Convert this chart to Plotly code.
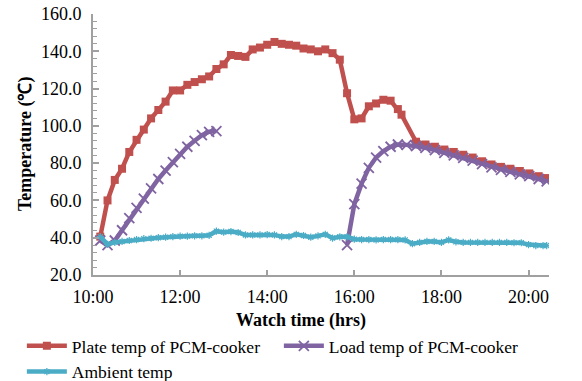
import plotly.graph_objects as go

def hrs(ts):
    out = []
    for s in ts:
        h, m = s.split(":")
        out.append(int(h) + int(m) / 60.0)
    return out

# Plate temp of PCM-cooker
plate_time = ["10:10", "10:20", "10:30", "10:40", "10:50", "11:00", "11:10", "11:20", "11:30", "11:40",
              "11:50", "12:00", "12:10", "12:20", "12:30", "12:40", "12:50", "13:00", "13:10", "13:20",
              "13:30", "13:40", "13:50", "14:00", "14:10", "14:20", "14:30", "14:40", "14:50", "15:00",
              "15:10", "15:20", "15:30", "15:40", "15:50", "16:00", "16:10", "16:20", "16:30", "16:40",
              "16:50", "17:00", "17:05", "17:25", "17:38", "17:51", "18:04", "18:17", "18:30", "18:43",
              "18:56", "19:09", "19:22", "19:35", "19:48", "20:01", "20:14", "20:25"]
plate_temp = [40.6, 60.0, 71.0, 77.0, 86.0, 92.5, 98.0, 104.0, 108.5, 113.0,
              119.0, 119.0, 122.0, 123.5, 125.0, 126.5, 130.5, 133.0, 138.0, 137.5,
              137.0, 141.0, 142.0, 143.5, 145.0, 144.0, 143.5, 143.0, 141.5, 141.0,
              140.0, 141.0, 139.0, 135.5, 117.5, 103.5, 104.0, 110.5, 112.0, 114.0,
              113.5, 109.0, 106.0, 91.5, 90.0, 88.8, 87.3, 86.0, 84.5, 83.0,
              81.0, 79.3, 78.0, 77.0, 75.8, 74.5, 73.0, 72.0]

# Load temp of PCM-cooker (two measurement periods, gap in between)
load_time = ["10:10", "10:20", "10:30", "10:40", "10:50", "11:00", "11:10", "11:20", "11:30", "11:40",
             "11:50", "12:00", "12:10", "12:20", "12:30", "12:40", "12:50", None,
             "15:50", "16:00", "16:10", "16:20", "16:30", "16:40", "16:50", "17:00", "17:12", "17:25",
             "17:38", "17:51", "18:04", "18:17", "18:30", "18:43", "18:56", "19:09", "19:22", "19:35",
             "19:48", "20:01", "20:14", "20:25"]
load_temp = [38.5, 36.0, 38.5, 44.0, 50.5, 56.0, 61.0, 66.5, 71.5, 76.0,
             80.5, 85.0, 88.8, 92.0, 95.0, 96.8, 97.2, None,
             36.0, 58.0, 69.0, 77.5, 83.0, 86.5, 88.8, 90.0, 89.8, 89.2,
             88.2, 87.0, 85.5, 84.2, 82.8, 81.3, 79.5, 77.7, 76.4, 75.3,
             74.0, 73.0, 71.5, 70.2]

# Ambient temp
amb_time = ["10:10", "10:20", "10:30", "10:40", "10:50", "11:00", "11:10", "11:20", "11:30", "11:40",
            "11:50", "12:00", "12:10", "12:20", "12:30", "12:40", "12:50", "13:00", "13:10", "13:20",
            "13:30", "13:40", "13:50", "14:00", "14:10", "14:20", "14:30", "14:40", "14:50", "15:00",
            "15:10", "15:20", "15:30", "15:40", "15:50", "16:00", "16:10", "16:20", "16:30", "16:40",
            "16:50", "17:00", "17:10", "17:20", "17:30", "17:40", "17:50", "18:00", "18:10", "18:20",
            "18:30", "18:40", "18:50", "19:00", "19:10", "19:20", "19:30", "19:40", "19:50", "20:00",
            "20:10", "20:20", "20:25"]
amb_temp = [40.6, 36.5, 37.5, 38.0, 38.5, 39.0, 39.5, 39.7, 40.0, 40.3,
            40.6, 40.8, 40.8, 41.0, 41.0, 41.3, 43.5, 43.0, 43.3, 42.8,
            41.5, 41.5, 41.5, 41.7, 41.5, 40.6, 40.6, 41.8, 41.2, 40.3,
            41.0, 41.8, 39.8, 40.5, 40.5, 39.2, 39.0, 39.0, 38.8, 39.0,
            39.0, 39.0, 38.8, 36.8, 37.5, 38.0, 38.0, 37.5, 38.8, 37.8,
            37.5, 37.5, 37.5, 37.5, 37.5, 37.5, 37.5, 37.3, 37.3, 36.3,
            35.8, 35.8, 35.8]

x_tickvals = [10, 12, 14, 16, 18, 20]
x_ticktext = ["10:00", "12:00", "14:00", "16:00", "18:00", "20:00"]

def hrs_gap(ts):
    return [None if s is None else hrs([s])[0] for s in ts]

RED = "#C0504D"
PUR = "#8064A2"
TEAL = "#4BACC6"
FONT = "Liberation Serif"

fig = go.Figure()
fig.add_trace(go.Scatter(
    x=hrs(plate_time), y=plate_temp, mode="lines+markers", name="Plate temp of PCM-cooker",
    line=dict(color=RED, width=4.5),
    marker=dict(symbol="square", size=8, color=RED),
))
fig.add_trace(go.Scatter(
    x=hrs_gap(load_time), y=load_temp, mode="lines+markers", name="Load temp of PCM-cooker",
    line=dict(color=PUR, width=4.5), connectgaps=False,
    marker=dict(symbol="x-thin-open", size=10, color=PUR, line=dict(color=PUR, width=1.8)),
))
fig.add_trace(go.Scatter(
    x=hrs(amb_time), y=amb_temp, mode="lines+markers", name="Ambient temp",
    line=dict(color=TEAL, width=4.5),
    marker=dict(symbol="asterisk-open", size=6, color=TEAL, line=dict(color=TEAL, width=1.2)),
))

axis_col = "#A0A0A0"
fig.update_layout(
    width=582, height=381,
    margin=dict(l=93, r=33, t=14, b=106, autoexpand=False),
    paper_bgcolor="white", plot_bgcolor="white",
    font=dict(family=FONT, size=18, color="black"),
    showlegend=True,
    legend=dict(
        orientation="h", x=-0.156, xanchor="left",
        y=-0.203, yanchor="top",
        font=dict(family=FONT, size=17.5, color="black"),
        entrywidth=202, entrywidthmode="pixels",
        tracegroupgap=0, itemwidth=40, bgcolor="rgba(0,0,0,0)",
    ),
    xaxis=dict(
        range=[10, 20.47], tickvals=x_tickvals, ticktext=x_ticktext,
        showline=True, linecolor=axis_col, linewidth=2,
        ticks="inside", ticklen=5, tickcolor=axis_col, tickwidth=1.5,
        showgrid=False, zeroline=False, ticklabelstandoff=4,
        tickfont=dict(family=FONT, size=18),
    ),
    yaxis=dict(
        range=[20, 160], dtick=20, tick0=20, tickformat=".1f",
        showline=True, linecolor=axis_col, linewidth=2,
        ticks="inside", ticklen=6, tickcolor=axis_col, tickwidth=1.5,
        minor=dict(dtick=4, ticks="inside", ticklen=4, tickcolor=axis_col, tickwidth=1.2),
        showgrid=False, zeroline=False,
        tickfont=dict(family=FONT, size=18), ticklabelstandoff=6,
    ),
    annotations=[
        dict(text="<b>Temperature (℃)</b>", xref="paper", yref="paper",
             x=-0.148, y=0.5, xanchor="center", yanchor="middle", textangle=-90,
             showarrow=False, font=dict(family=FONT, size=18)),
        dict(text="<b>Watch time (hrs)</b>", xref="paper", yref="paper",
             x=(301 - 93) / 456, y=-(320 - 275) / 261, xanchor="center", yanchor="middle",
             showarrow=False, font=dict(family=FONT, size=18)),
    ],
)

fig.write_html("out.html")
